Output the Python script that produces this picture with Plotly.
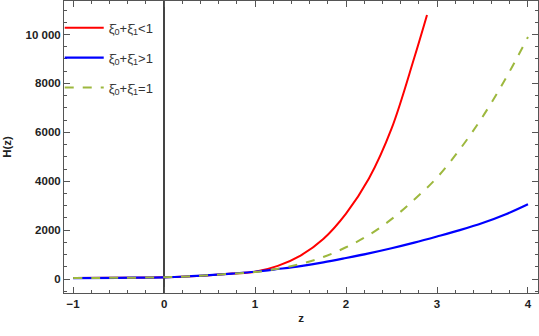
import plotly.graph_objects as go

# Data
z_red = [-1, -0.5, 0, 0.25, 0.5, 0.75, 1, 1.25, 1.5, 1.75, 2, 2.25, 2.5, 2.75, 2.89]
H_red = [40, 52, 70, 105, 160, 225, 300, 540, 960, 1640, 2680, 4100, 6150, 9050, 10800]

z_blue = [-1, -0.5, 0, 0.25, 0.5, 0.75, 1, 1.25, 1.5, 1.75, 2, 2.25, 2.5, 2.75, 3, 3.25, 3.5, 3.75, 4]
H_blue = [40, 52, 70, 105, 160, 225, 300, 410, 530, 680, 860, 1050, 1260, 1490, 1740, 2000, 2290, 2640, 3060]

z_green = [-1, -0.5, 0, 0.25, 0.5, 0.75, 1, 1.25, 1.5, 1.75, 2, 2.25, 2.5, 2.75, 3, 3.25, 3.5, 3.75, 4]
H_green = [40, 52, 70, 105, 160, 220, 285, 420, 620, 900, 1300, 1800, 2450, 3250, 4150, 5300, 6630, 8170, 9900]

names = ["ξ̄<sub>0</sub>+ξ̄<sub>1</sub>&lt;1",
         "ξ̄<sub>0</sub>+ξ̄<sub>1</sub>&gt;1",
         "ξ̄<sub>0</sub>+ξ̄<sub>1</sub>=1"]

x_tickvals = [-1, 0, 1, 2, 3, 4]
x_ticktext = ["−1", "0", "1", "2", "3", "4"]
y_tickvals = [0, 2000, 4000, 6000, 8000, 10000]
y_ticktext = ["0", "2000", "4000", "6000", "8000", "10 000"]

FONT = "Liberation Sans, Arial, sans-serif"

fig = go.Figure()
fig.add_trace(go.Scatter(x=z_red, y=H_red, mode="lines", name=names[0], legendgroup="a",
                         line=dict(color="#ff0000", width=2, shape="spline")))
fig.add_trace(go.Scatter(x=z_blue, y=H_blue, mode="lines", name=names[1], legendgroup="b",
                         line=dict(color="#0000ff", width=2.2, shape="spline")))
fig.add_trace(go.Scatter(x=z_green, y=H_green, mode="lines", name=names[2], legendgroup="c",
                         line=dict(color="#9db83e", width=2, dash="dash", shape="spline")))

axis_common = dict(
    showline=True, linecolor="#555555", linewidth=1, mirror="allticks",
    ticks="inside", ticklen=6, tickcolor="#555555", tickwidth=1,
    showgrid=False, automargin=False,
    tickfont=dict(family=FONT, size=11.5, color="#222222", weight="bold"),
)

fig.update_xaxes(
    range=[-1.1, 4.11], tickvals=x_tickvals, ticktext=x_ticktext,
    zeroline=True, zerolinecolor="#444444", zerolinewidth=1.5,
    minor=dict(dtick=0.2, tick0=0, ticks="inside", ticklen=3, tickcolor="#555555", showgrid=False),
    title=dict(text="z", font=dict(family=FONT, size=11.5, color="#222222", weight="bold"), standoff=5),
    **axis_common,
)
fig.update_yaxes(
    range=[-570, 11370], tickvals=y_tickvals, ticktext=y_ticktext,
    zeroline=False,
    minor=dict(dtick=500, tick0=0, ticks="inside", ticklen=3, tickcolor="#555555", showgrid=False),
    title=dict(text="H(z)", font=dict(family=FONT, size=11.5, color="#222222", weight="bold"), standoff=11),
    **axis_common,
)

fig.update_layout(
    width=539, height=336,
    margin=dict(l=64, r=1, t=1, b=43),
    plot_bgcolor="white", paper_bgcolor="white",
    showlegend=True,
    legend=dict(x=-0.009, y=0.96, xanchor="left", yanchor="top",
                bgcolor="rgba(0,0,0,0)", borderwidth=0,
                font=dict(family=FONT, size=13, color="#333333"),
                itemwidth=39, tracegroupgap=10),
)

fig.write_html("out.html",
               config={"displayModeBar": False},
               post_script="document.body.style.margin='0';document.body.style.padding='0';")
